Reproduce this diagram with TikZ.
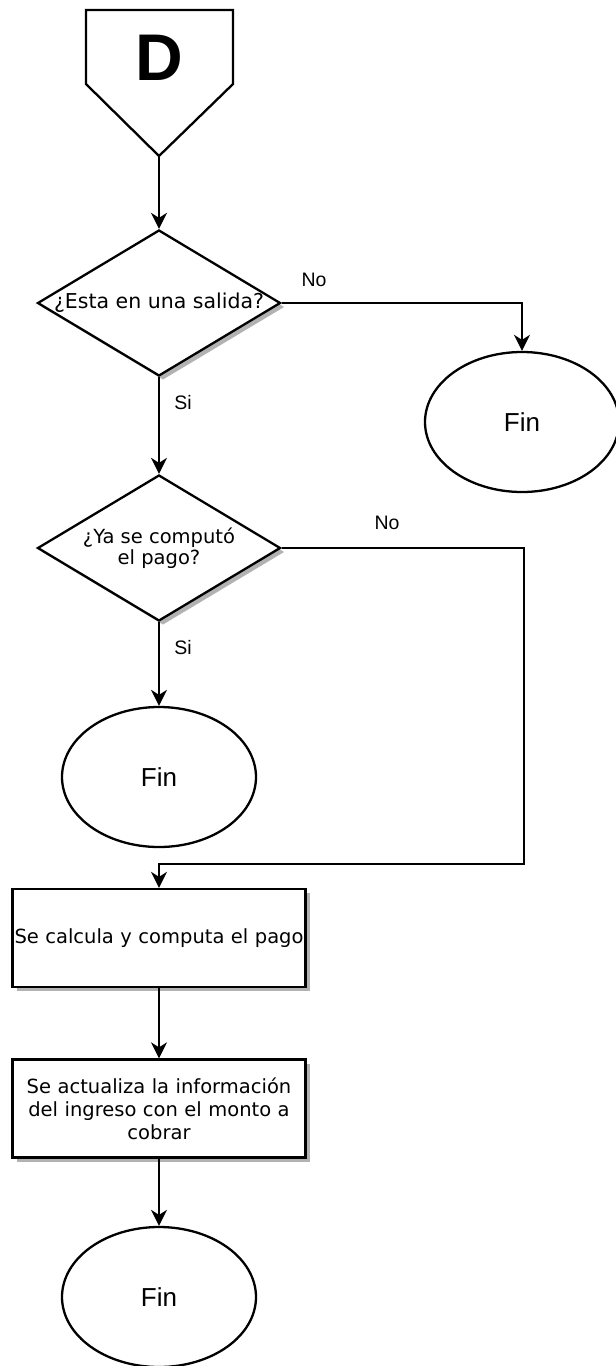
\documentclass[tikz,border=0pt]{standalone}
\usepackage{fontspec}
\setmainfont{DejaVu Sans}
\newfontfamily\arialf{Liberation Sans}
\usetikzlibrary{shapes.geometric,arrows.meta,shadows}
\begin{document}
\begin{tikzpicture}[x=1pt,y=-1pt,
  line width=2.3pt,
  shd/.style={drop shadow={shadow xshift=4pt,shadow yshift=-4pt,fill=black!30,opacity=1}},
  dia/.style={diamond,draw,fill=white,shd,minimum width=243pt,minimum height=146pt,inner sep=0pt},
  fin/.style={ellipse,draw,fill=white,minimum width=194pt,minimum height=140pt,inner sep=0pt,font=\arialf\fontsize{26}{30}\selectfont},
  proc/.style={rectangle,draw,fill=white,shd,minimum width=293pt,minimum height=98pt,inner sep=0pt,text width=292pt,align=center,font=\fontsize{19.5}{23}\selectfont},
  dtext/.style={align=center,font=\fontsize{20.5}{21}\selectfont},
  dtextb/.style={align=center,font=\fontsize{19.5}{21}\selectfont},
  lbl/.style={font=\arialf\fontsize{19.5}{22}\selectfont},
  arr/.style={-{Stealth[length=16pt,width=16pt,inset=5pt]}}
]
\useasboundingbox (0,0) rectangle (616,1366);
% off-page connector
\draw[fill=white] (86,10) -- (233,10) -- (233,84) -- (159,156) -- (86,84) -- cycle;
\node[font=\arialf\bfseries\fontsize{66}{70}\selectfont] (D) at (159,58) {D};
\coordinate (Dtip) at (159,156);
% decisions
\node[dia] (d1) at (159,303) {};
\node[dtext] at (d1) {¿Esta en una salida?};
\node[dia] (d2) at (159,548) {};
\node[dtextb] at (d2) {¿Ya se computó\\el pago?};
% ends
\node[fin] (f1) at (522,422) {Fin};
\node[fin] (f2) at (159,777) {Fin};
\node[fin] (f3) at (159,1297) {Fin};
% processes
\node[proc] (b1) at (159,938) {Se calcula y computa el pago};
\node[proc] (b2) at (159,1108.5) {Se actualiza la información\\del ingreso con el monto a\\cobrar};
% corner points
\coordinate (c2) at (524,864);
% connectors
\draw[arr] (Dtip) -- (d1.north);
\draw[arr] (d1.east) -| (f1.north);
\draw[arr] (d1.south) -- (d2.north);
\draw[arr] (d2.south) -- (f2.north);
\draw[arr] (d2.east) -| (c2) -| (b1.north);
\draw[arr] (b1.south) -- (b2.north);
\draw[arr] (b2.south) -- (f3.north);
% labels
\node[lbl] (l1) at (314,280) {No};
\node[lbl] (l2) at (183,403) {Si};
\node[lbl] (l3) at (387,523) {No};
\node[lbl] (l4) at (183,648) {Si};
\end{tikzpicture}
\end{document}
